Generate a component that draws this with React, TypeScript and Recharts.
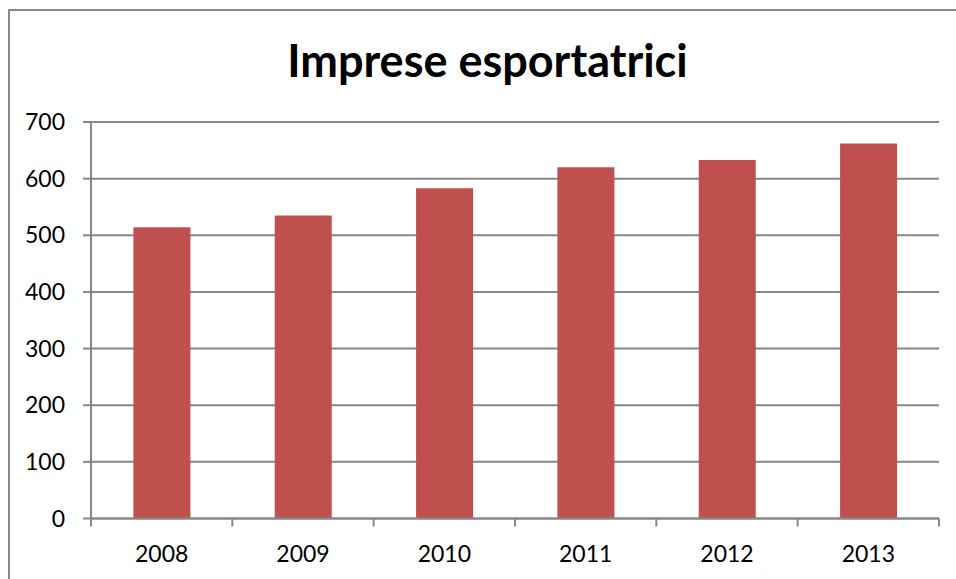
import React from 'react';
import { BarChart, Bar, XAxis, YAxis, CartesianGrid } from 'recharts';

const years = ['2008', '2009', '2010', '2011', '2012', '2013'];
const imprese = [514, 535, 583, 620, 633, 662];
const yTicks = [0, 100, 200, 300, 400, 500, 600, 700];

const data = years.map((year, i) => ({ year, value: imprese[i] }));

const FONT = 'Lato, "Open Sans", sans-serif';
const GRID = '#878787';

// category tick: label in the middle, tick mark on the category boundary (Excel style)
const CategoryTick = (props: any) => {
  const { x, y, payload, index, visibleTicksCount } = props;
  const half = payload && payload.offset ? payload.offset : 0;
  const isLast = index === (visibleTicksCount ?? years.length) - 1;
  const top = y - 27;
  return (
    <g>
      <line x1={x - half} y1={top} x2={x - half} y2={top + 8} stroke={GRID} strokeWidth={2} />
      {isLast && <line x1={x + half} y1={top} x2={x + half} y2={top + 8} stroke={GRID} strokeWidth={2} />}
      <text x={x} y={y} textAnchor="middle" dy="0.71em" fontFamily={FONT} fontSize={23} fill="#000">
        {payload.value}
      </text>
    </g>
  );
};

const App: React.FC = () => {
  return (
    <div style={{ position: 'absolute', left: 0, top: 0, width: 956, height: 579, overflow: 'hidden', background: '#fff' }}>
      <div
        style={{
          position: 'absolute',
          left: 8,
          top: 9,
          width: 970,
          height: 600,
          border: `2px solid ${GRID}`,
        }}
      />
      <svg width={956} height={579} style={{ position: 'absolute', left: 0, top: 0 }}>
        <text x={487.5} y={77} textAnchor="middle" fontFamily={FONT} fontWeight="bold" fontSize={45} fill="#000">
          Imprese esportatrici
        </text>
      </svg>
      <div style={{ position: 'absolute', left: 0, top: 0 }}>
        <BarChart
          width={956}
          height={579}
          data={data}
          margin={{ top: 122, right: 17, bottom: 0, left: 0 }}
          barCategoryGap="30%"
        >
          <CartesianGrid vertical={false} stroke={GRID} strokeWidth={2} strokeDasharray="" />
          <XAxis
            dataKey="year"
            height={60.5}
            tickLine={false}
            axisLine={{ stroke: GRID, strokeWidth: 2 }}
            tickMargin={19}
            tickSize={8}
            tick={<CategoryTick />}
          />
          <YAxis
            width={91}
            domain={[0, 700]}
            ticks={yTicks}
            interval={0}
            tickSize={8}
            tickMargin={18}
            tickLine={{ stroke: GRID, strokeWidth: 2 }}
            axisLine={{ stroke: GRID, strokeWidth: 2 }}
            tick={{ fontFamily: FONT, fontSize: 23, fill: '#000' }}
          />
          <Bar dataKey="value" fill="#C0504D" isAnimationActive={false} />
        </BarChart>
      </div>
    </div>
  );
};

export default App;
